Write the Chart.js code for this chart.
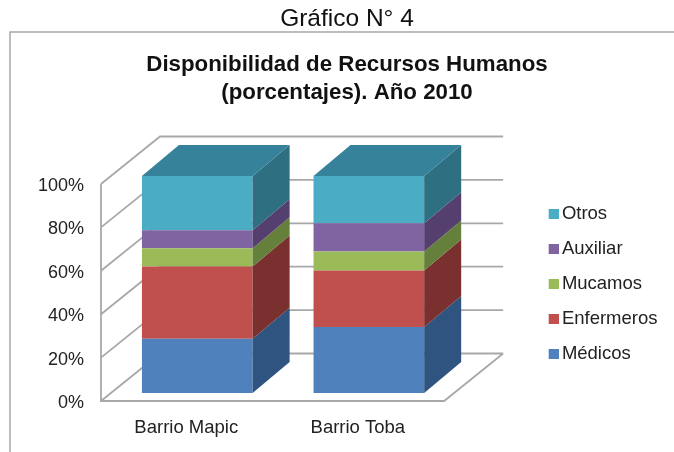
<!DOCTYPE html>
<html><head><meta charset="utf-8">
<style>html,body{margin:0;padding:0;background:#fff}canvas{display:block}</style>
<script src="https://cdn.jsdelivr.net/npm/chart.js@4"></script>
</head><body>
<canvas id="c" width="674" height="452"></canvas>
<script>
const categories = ['Barrio Mapic', 'Barrio Toba'];
const medicos = [25, 30.4];
const enfermeros = [33.3, 26.1];
const mucamos = [8.4, 8.7];
const auxiliar = [8.3, 13];
const otros = [25, 21.8];
const outerTitle = 'Gráfico N° 4';
const chartTitle = ['Disponibilidad de Recursos Humanos', '(porcentajes). Año 2010'];
const frontColors = ['#4f81bd', '#c0504d', '#9bbb59', '#8064a2', '#4bacc6'];
const sideColors = ['#2f5480', '#7a302e', '#64803a', '#553f6e', '#2f6f82'];
const topColor = '#36829b';
const lineColor = '#a8a8a8';

const DX = 37, DY = 31;
const ds = [['Médicos', medicos], ['Enfermeros', enfermeros], ['Mucamos', mucamos], ['Auxiliar', auxiliar], ['Otros', otros]]
  .map((d, i) => ({ label: d[0], data: d[1], backgroundColor: frontColors[i], borderWidth: 0, barPercentage: 0.645, categoryPercentage: 1 }));

function swatch(color) {
  const s = document.createElement('canvas');
  s.width = 16; s.height = 10;
  const g = s.getContext('2d');
  g.fillStyle = color; g.fillRect(6, 0, 10, 10);
  return s;
}
function poly(ctx, pts, fill) {
  ctx.beginPath();
  pts.forEach((p, i) => i ? ctx.lineTo(p[0], p[1]) : ctx.moveTo(p[0], p[1]));
  ctx.closePath();
  ctx.fillStyle = fill;
  ctx.fill();
}
const walls = {
  id: 'walls',
  beforeLayout(chart) {
    const lg = chart.legend;
    if (lg && !lg._wide) {
      const u = lg.update;
      lg.update = function (w, h, m) { return u.call(this, 145, h, m); };
      lg._wide = true;
    }
  },
  beforeDraw(chart) {
    const c = chart.ctx;
    c.save();
    c.strokeStyle = lineColor; c.lineWidth = 1.5;
    c.beginPath(); c.moveTo(10, 452); c.lineTo(10, 32); c.lineTo(674, 32); c.stroke();
    c.restore();
  },
  beforeDatasetsDraw(chart) {
    const c = chart.ctx, y = chart.scales.y, a = chart.chartArea;
    const fx = a.left - 10.5, bx = fx + 59, rfx = a.right - 10.5, rbx = rfx + 59;
    c.save();
    c.strokeStyle = lineColor; c.lineWidth = 1.8;
    c.beginPath();
    y.ticks.forEach(t => {
      const p = y.getPixelForValue(t.value);
      c.moveTo(fx, p + 8); c.lineTo(bx, p - 39.5); c.lineTo(rbx, p - 39.5);
    });
    const p0 = y.getPixelForValue(0), p1 = y.getPixelForValue(100);
    c.moveTo(fx, p1 + 8); c.lineTo(fx, p0 + 8); c.lineTo(rfx, p0 + 8); c.lineTo(rbx, p0 - 39.5);
    c.stroke();
    c.restore();
  },
  afterDatasetsDraw(chart) {
    const c = chart.ctx;
    chart.data.datasets.forEach((d, i) => {
      chart.getDatasetMeta(i).data.forEach(el => {
        const r = el.x + el.width / 2, l = el.x - el.width / 2;
        poly(c, [[r, el.y], [r + DX, el.y - DY], [r + DX, el.base - DY], [r, el.base]], sideColors[i]);
        if (i === chart.data.datasets.length - 1) {
          poly(c, [[l, el.y], [r, el.y], [r + DX, el.y - DY], [l + DX, el.y - DY]], topColor);
        }
      });
    });
  }
};

Chart.defaults.font.family = '"Liberation Sans", Arial, sans-serif';
new Chart(document.getElementById('c'), {
  type: 'bar',
  data: { labels: categories, datasets: ds },
  plugins: [walls],
  options: {
    responsive: false,
    animation: false,
    layout: { padding: { left: 26.5, right: 6.5, top: 5, bottom: 0 } },
    plugins: {
      tooltip: { enabled: false },
      title: { display: true, text: outerTitle, color: '#111', font: { size: 24.5, weight: 'normal' }, padding: { top: 0, bottom: 16.4 } },
      subtitle: { display: true, text: chartTitle, color: '#111', font: { size: 22.3, weight: 'bold', lineHeight: 1.25 }, padding: { top: 0, bottom: 69.45 } },
      legend: {
        display: true, position: 'right', reverse: true, align: 'start',
        title: { display: true, text: ' ', font: { size: 1 }, padding: 90.9 },
        labels: {
          color: '#222', font: { size: 18.5 }, padding: 16.5, boxWidth: 4, boxHeight: 10,
          usePointStyle: true, pointStyleWidth: 4,
          generateLabels(chart) {
            return Chart.defaults.plugins.legend.labels.generateLabels(chart).map(it => {
              it.pointStyle = swatch(frontColors[it.datasetIndex]);
              it.lineWidth = 0;
              return it;
            });
          }
        }
      }
    },
    scales: {
      x: {
        stacked: true,
        grid: { display: false }, border: { display: false },
        ticks: { color: '#222', font: { size: 18.5 }, padding: 16, labelOffset: -11, maxRotation: 0 },
        afterFit(s) { s.height = 59; }
      },
      y: {
        stacked: true, min: 0, max: 100,
        grid: { display: false }, border: { display: false },
        ticks: { stepSize: 20, color: '#222', font: { size: 18 }, padding: 19.5, labelOffset: 10, callback: v => v + '%' },
        afterFit(s) { s.width = 85; }
      },
      gap: {
        position: 'right', display: true,
        grid: { display: false }, border: { display: false },
        ticks: { display: false },
        afterFit(s) { s.width = 77.5; }
      }
    }
  }
});
</script>
</body></html>
